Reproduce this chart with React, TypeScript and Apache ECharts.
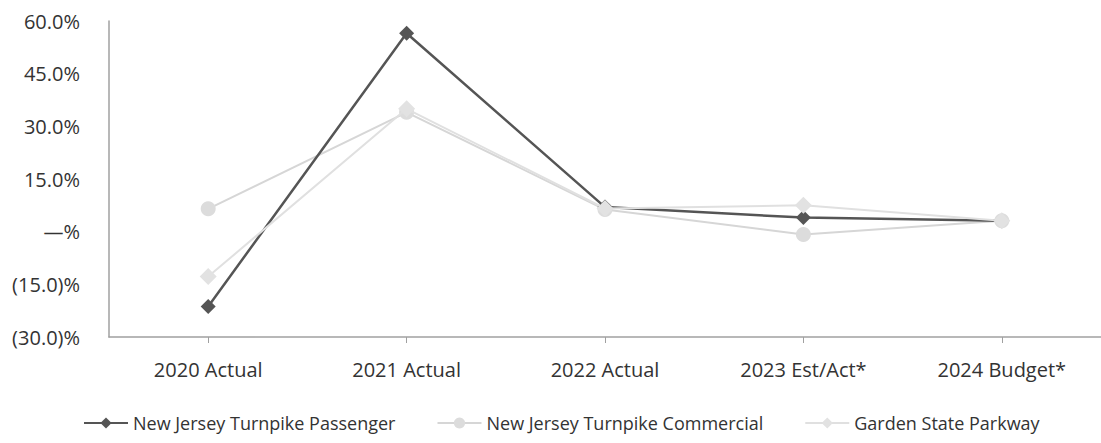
import React, { useEffect, useRef } from "react";
import * as echarts from "echarts";

const categories = ["2020 Actual", "2021 Actual", "2022 Actual", "2023 Est/Act*", "2024 Budget*"];
const passenger = [-21.3, 56.5, 7.0, 4.0, 3.1];
const commercial = [6.5, 34.0, 6.3, -0.8, 3.1];
const parkway = [-12.8, 35.0, 6.6, 7.5, 3.1];
const seriesNames = ["New Jersey Turnpike Passenger", "New Jersey Turnpike Commercial", "Garden State Parkway"];

const fmt = (v: number) => {
  if (v === 0) return "—%";
  if (v < 0) return "(" + Math.abs(v).toFixed(1) + ")%";
  return v.toFixed(1) + "%";
};

export default function App() {
  const ref = useRef<HTMLDivElement>(null);
  useEffect(() => {
    const chart = echarts.init(ref.current!, undefined, { renderer: "svg" });
    const font = "'Open Sans', 'Noto Sans', sans-serif";
    chart.setOption({
      animation: false,
      textStyle: { fontFamily: font },
      grid: { left: 109, right: -2, top: 21, bottom: 106, containLabel: false },
      legend: {
        top: 409,
        left: 78,
        itemWidth: 44,
        itemHeight: 14,
        itemGap: 41,
        textStyle: { fontSize: 18, color: "#333", fontFamily: font },
        data: seriesNames,
      },
      xAxis: {
        type: "category",
        data: categories,
        boundaryGap: true,
        axisLine: { onZero: false, lineStyle: { color: "#a0a0a0", width: 1.5 } },
        axisTick: { show: true, alignWithLabel: true, length: 6, lineStyle: { color: "#a0a0a0" } },
        axisLabel: { fontSize: 20, color: "#333", margin: 22 },
        splitLine: { show: false },
      },
      yAxis: {
        type: "value",
        min: -30,
        max: 60,
        interval: 15,
        axisLine: { show: true, lineStyle: { color: "#a0a0a0", width: 1.5 } },
        axisTick: { show: false },
        splitLine: { show: false },
        axisLabel: { fontSize: 20, color: "#333", margin: 29, formatter: fmt },
      },
      series: [
        {
          name: seriesNames[0],
          type: "line",
          data: passenger,
          symbol: "diamond",
          symbolSize: 15,
          lineStyle: { color: "#555555", width: 2.5 },
          itemStyle: { color: "#555555" },
          z: 3,
        },
        {
          name: seriesNames[1],
          type: "line",
          data: commercial,
          symbol: "circle",
          symbolSize: 15,
          lineStyle: { color: "#d6d6d6", width: 2 },
          itemStyle: { color: "#dcdcdc" },
          z: 2,
        },
        {
          name: seriesNames[2],
          type: "line",
          data: parkway,
          symbol: "diamond",
          symbolSize: 17,
          lineStyle: { color: "#e0e0e0", width: 2 },
          itemStyle: { color: "#e2e2e2" },
          z: 4,
        },
      ],
    });
    return () => chart.dispose();
  }, []);
  return (
    <div
      ref={ref}
      style={{ position: "fixed", left: 0, top: 0, width: 1101, height: 443, background: "#fff" }}
    />
  );
}
